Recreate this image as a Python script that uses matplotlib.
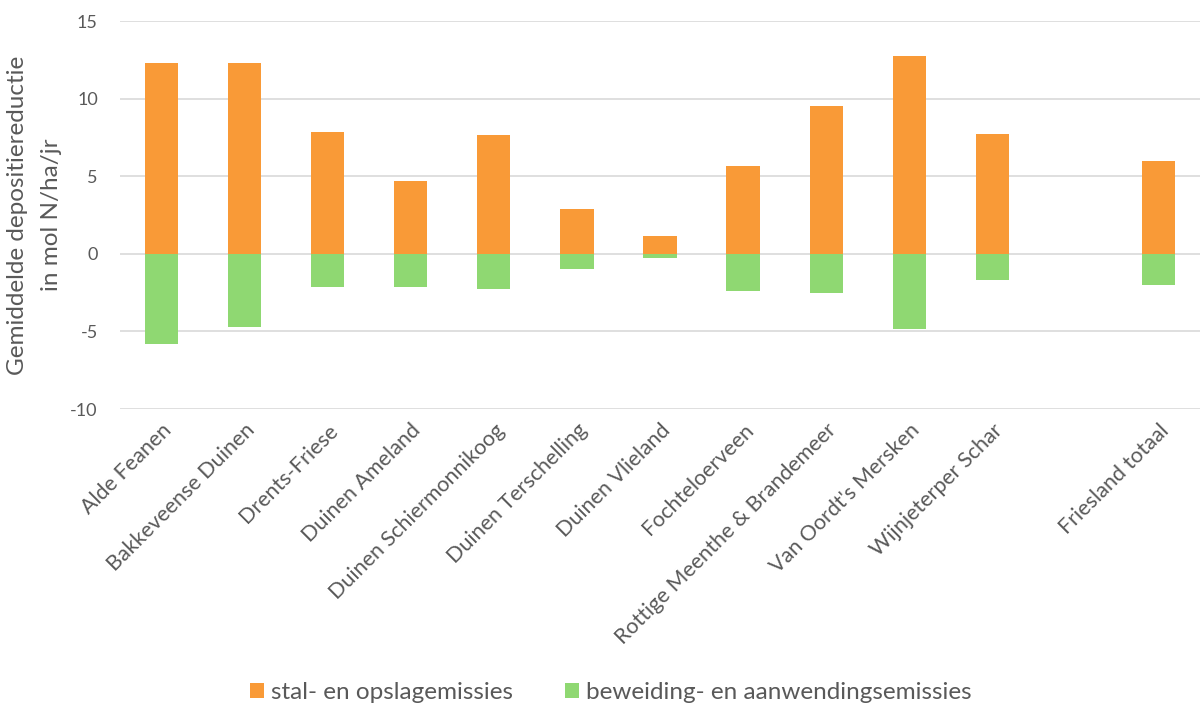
import matplotlib
matplotlib.use('Agg')
import matplotlib.pyplot as plt
import numpy as np

plt.rcParams['font.family'] = ['Lato', 'DejaVu Sans']

# Data
areas = ['Alde Feanen', 'Bakkeveense Duinen', 'Drents-Friese', 'Duinen Ameland',
         'Duinen Schiermonnikoog', 'Duinen Terschelling', 'Duinen Vlieland',
         'Fochteloerveen', 'Rottige Meenthe & Brandemeer', "Van Oordt's Mersken",
         'Wijnjeterper Schar', '', 'Friesland totaal']
stal = [12.3, 12.3, 7.85, 4.7, 7.65, 2.92, 1.16, 5.68, 9.55, 12.77, 7.72, np.nan, 6.0]
beweiding = [-5.78, -4.7, -2.15, -2.15, -2.24, -0.95, -0.26, -2.37, -2.5, -4.82, -1.7, np.nan, -1.98]
yticks = [-10, -5, 0, 5, 10, 15]

ORANGE = '#F99A37'
GREEN = '#8FD872'
TEXT = '#595959'

fig = plt.figure(figsize=(12, 7.04), dpi=100)
ax = fig.add_axes([0.1, 0.419, 0.9, 0.551])

x = np.arange(len(areas))
ax.bar(x, stal, width=0.4, color=ORANGE, label='stal- en opslagemissies', zorder=3)
ax.bar(x, beweiding, width=0.4, color=GREEN, label='beweiding- en aanwendingsemissies', zorder=3)

ax.set_ylim(-10, 15)
ax.set_xlim(-0.5, len(areas) - 0.5)
ax.set_yticks(yticks)
ax.set_yticklabels([str(v) for v in yticks], fontsize=13, color=TEXT)
ax.set_xticks(x)
ax.set_xticklabels(areas, rotation=45, ha='right', rotation_mode='anchor',
                   fontsize=15.5, color=TEXT)
ax.tick_params(axis='y', length=0, pad=16)
ax.tick_params(axis='x', length=0, pad=8)
ax.grid(axis='y', color='#D9D9D9', linewidth=1.2, zorder=0)
for s in ax.spines.values():
    s.set_visible(False)

ax.set_ylabel('Gemiddelde depositiereductie\nin mol N/ha/jr', fontsize=17.5,
              color=TEXT, labelpad=6, linespacing=1.75)

fig.legend(loc='lower center', bbox_to_anchor=(0.509, -0.03), ncol=2, frameon=False,
           fontsize=17.5, handlelength=0.6, handleheight=0.6, handletextpad=0.3,
           columnspacing=2.1, labelcolor=TEXT)

plt.savefig('out.png', dpi=100)
